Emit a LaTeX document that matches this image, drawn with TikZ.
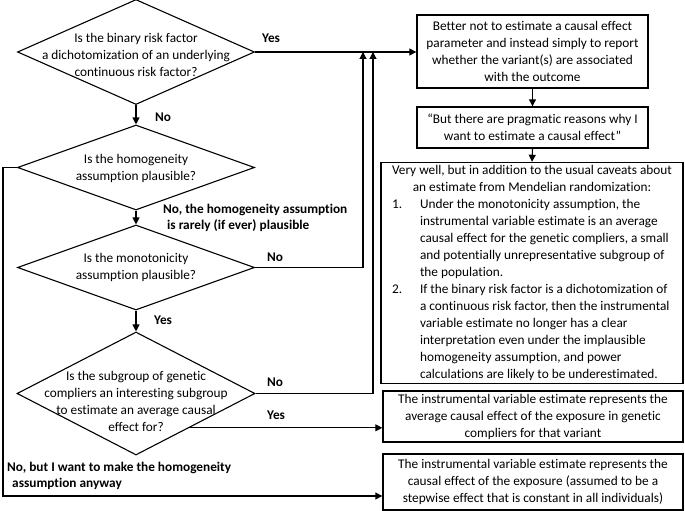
\documentclass[tikz,border=0pt]{standalone}
\usepackage{fontspec}
\setmainfont{Carlito}[Ligatures=NoCommon]
\usetikzlibrary{shapes.geometric,arrows.meta,calc}
\begin{document}
\begin{tikzpicture}[x=1pt,y=1pt,
  every node/.style={font=\fontsize{13.3}{17}\selectfont},
  dia/.style={draw, shape=diamond, inner sep=0pt, line width=1.1pt},
  box/.style={draw, rectangle, inner sep=0pt, line width=1.4pt, align=center},
  txt/.style={align=center, inner sep=0pt},
  lbl/.style={font=\fontsize{13.3}{15.5}\selectfont\bfseries, inner sep=0pt, align=left},
  conn/.style={line width=1.1pt, -{Triangle[length=7pt,width=7pt]}}]
\useasboundingbox (0,0) rectangle (685,-511);
% diamonds
\node[dia, minimum width=237pt, minimum height=105pt] (d1) at (136,-52) {};
\node[txt] (t1) at (136,-55) {Is the binary risk factor\\a dichotomization of an underlying\\continuous risk factor?};
\node[dia, minimum width=237pt, minimum height=85pt] (d2) at (136,-167.5) {};
\node[txt] (t2) at (136,-168) {Is the homogeneity\\assumption plausible?};
\node[dia, minimum width=237pt, minimum height=85pt] (d3) at (136,-267.5) {};
\node[txt] (t3) at (136,-267) {Is the monotonicity\\assumption plausible?};
\node[dia, minimum width=238pt, minimum height=123pt] (d4) at (136,-393.5) {};
\node[txt] (t4) at (136,-401) {Is the subgroup of genetic\\compliers an interesting subgroup\\to estimate an average causal\\effect for?};
% boxes
\node[box, minimum width=231pt, minimum height=73pt] (b1) at (532.5,-51.5) {Better not to estimate a causal effect\\parameter and instead simply to report\\whether the variant(s) are associated\\with the outcome};
\node[box, minimum width=231pt, minimum height=41pt] (b2) at (532.5,-127.5) {\textquotedblleft But there are pragmatic reasons why I\\want to estimate a causal effect\textquotedblright};
\node[box, minimum width=302pt, minimum height=220pt] (b3) at (532,-273) {\begin{tabular}{@{}p{28pt}@{}l@{}}
\multicolumn{2}{@{}c@{}}{Very well, but in addition to the usual caveats about}\\
\multicolumn{2}{@{}c@{}}{an estimate from Mendelian randomization:}\\
1. & Under the monotonicity assumption, the\\
 & instrumental variable estimate is an average\\
 & causal effect for the genetic compliers, a small\\
 & and potentially unrepresentative subgroup of\\
 & the population.\\
2. & If the binary risk factor is a dichotomization of\\
 & a continuous risk factor, then the instrumental\\
 & variable estimate no longer has a clear\\
 & interpretation even under the implausible\\
 & homogeneity assumption, and power\\
 & calculations are likely to be underestimated.
\end{tabular}};
\node[box, minimum width=300pt, minimum height=51pt] (b4) at (533,-416.5) {The instrumental variable estimate represents the\\average causal effect of the exposure in genetic\\compliers for that variant};
\node[box, minimum width=300pt, minimum height=56pt] (b5) at (533,-482) {The instrumental variable estimate represents the\\causal effect of the exposure (assumed to be a\\stepwise effect that is constant in all individuals)};
% helper coordinates
\coordinate (x3) at (363,0);
\coordinate (x4) at (373,0);
\coordinate (x0) at (3,-496);
\coordinate (p4) at ($(d4.east)!0.553!(d4.south)$);
% connectors
\draw[conn] (d1.south) -- (d2.north);
\draw[conn] (d1.east) -- (d1.east -| b1.west);
\draw[conn] (d2.south) -- (d3.north);
\draw[conn] (d3.east) -- (d3.east -| x3) -- (x3 |- d1.east);
\draw[conn] (d3.south) -- (d4.north);
\draw[conn] (d4.east) -- (d4.east -| x4) -- (x4 |- d1.east);
\draw[conn] (p4) -- (p4 -| b4.west);
\draw[conn] (d2.west) -- (d2.west -| x0) -- (x0) -- (x0 -| b5.west);
\draw[conn] (b1.south) -- (b2.north);
\draw[conn] (b2.south) -- (b3.north);
% labels
\node[lbl, anchor=west] (l1) at (155,-117) {No};
\node[lbl, anchor=west] (l2) at (262,-38) {Yes};
\node[lbl, anchor=west] (l3) at (163,-218) {No, the homogeneity assumption\\\hspace*{4pt}is rarely (if ever) plausible};
\node[lbl, anchor=west] (l4) at (267,-257) {No};
\node[lbl, anchor=west] (l5) at (154,-320) {Yes};
\node[lbl, anchor=west] (l6) at (267,-382) {No};
\node[lbl, anchor=west] (l7) at (267,-415) {Yes};
\node[lbl, anchor=west] (l8) at (7,-476) {No, but I want to make the homogeneity\\\hspace*{5pt}assumption anyway};
\end{tikzpicture}
\end{document}
